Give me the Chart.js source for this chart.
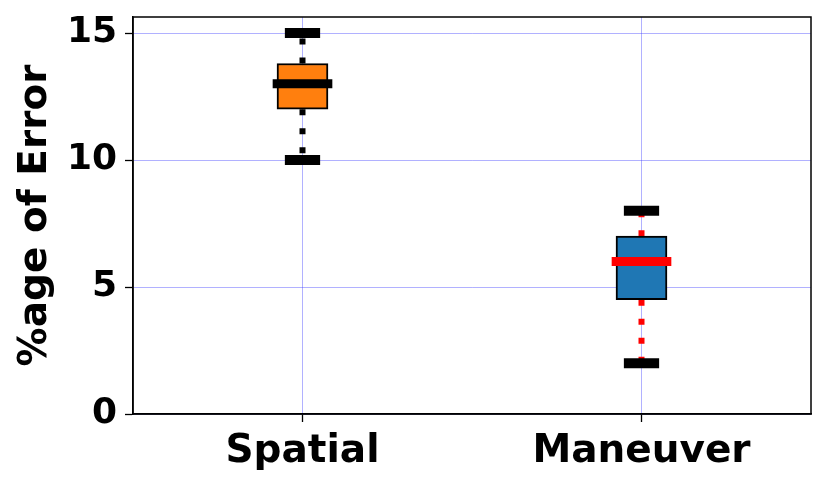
<!DOCTYPE html>
<html><head><meta charset="utf-8">
<script src="https://cdn.jsdelivr.net/npm/chart.js@4/dist/chart.umd.min.js"></script>
<style>html,body{margin:0;padding:0;background:#fff}</style>
</head><body>
<canvas id="c" width="830" height="487"></canvas>
<script>
const categories = ['Spatial', 'Maneuver'];
const positions = [1, 2];
const whiskerLow = [10, 2];
const q1 = [12, 4.5];
const median = [13, 6];
const q3 = [13.8, 7];
const whiskerHigh = [15, 8];
const yTicks = [0, 5, 10, 15];

const boxColors = ['#ff7f0e', '#1f77b4'];
const medianColors = ['#000000', '#ff0000'];
const whiskerColors = ['#000000', '#ff0000'];
const capHalf = 0.052, medHalf = 0.088;

const datasets = [];
datasets.push({
  type: 'bar',
  data: positions.map((p, i) => ({x: p, y: [q1[i], q3[i]]})),
  backgroundColor: boxColors,
  borderColor: '#000',
  borderWidth: 2,
  borderSkipped: false,
  barThickness: 51,
  order: 2
});
positions.forEach((p, i) => {
  datasets.push({type: 'line', data: [{x: p - medHalf, y: median[i]}, {x: p + medHalf, y: median[i]}],
    borderColor: medianColors[i], borderWidth: 9, pointRadius: 0, borderCapStyle: 'butt', order: 0});
  [whiskerLow[i], whiskerHigh[i]].forEach(v => {
    datasets.push({type: 'line', data: [{x: p - capHalf, y: v}, {x: p + capHalf, y: v}],
      borderColor: '#000', borderWidth: 10, pointRadius: 0, borderCapStyle: 'butt', order: 1});
  });
  datasets.push({type: 'line', data: [{x: p, y: q3[i]}, {x: p, y: whiskerHigh[i]}],
    borderColor: whiskerColors[i], borderWidth: 6, borderDash: [6, 13], pointRadius: 0, borderCapStyle: 'butt', order: 3});
  datasets.push({type: 'line', data: [{x: p, y: q1[i]}, {x: p, y: whiskerLow[i]}],
    borderColor: whiskerColors[i], borderWidth: 6, borderDash: [6, 13], pointRadius: 0, borderCapStyle: 'butt', order: 3});
});

const framePlugin = {
  id: 'frame',
  afterDatasetsDraw(chart) {
    const a = chart.chartArea, ctx = chart.ctx;
    ctx.save();
    ctx.strokeStyle = '#000';
    ctx.lineWidth = 1.5;
    ctx.strokeRect(a.left, a.top, a.right - a.left, a.bottom - a.top);
    ctx.restore();
  }
};

const gridCommon = {
  color: 'rgba(60,60,255,0.4)',
  lineWidth: 1,
  borderDash: [1.5, 1],
  tickColor: '#000',
  tickBorderDash: [],
  tickWidth: 1.3,
  tickLength: 8,
  drawOnChartArea: true
};

new Chart(document.getElementById('c'), {
  type: 'bar',
  data: {datasets},
  plugins: [framePlugin],
  options: {
    responsive: false,
    animation: false,
    layout: {padding: {left: 0, top: 17, right: 19, bottom: 0}},
    plugins: {legend: {display: false}, tooltip: {enabled: false}},
    scales: {
      x: {
        type: 'linear', min: 0.5, max: 2.5, offset: false,
        afterBuildTicks: s => { s.ticks = positions.map(v => ({value: v})); },
        afterFit: s => { s.height = 73; s.paddingLeft = 0; s.paddingRight = 0; },
        grid: Object.assign({offset: false}, gridCommon),
        border: {display: true, color: '#000', width: 1.5},
        ticks: {
          maxRotation: 0, autoSkip: false, padding: 6, color: '#000',
          font: {family: 'DejaVu Sans', weight: 'bold', size: 39},
          callback: v => categories[positions.indexOf(v)]
        }
      },
      y: {
        type: 'linear', min: 0, max: 15.63,
        afterBuildTicks: s => { s.ticks = yTicks.map(v => ({value: v})); },
        afterFit: s => { s.width = 133; s.paddingTop = 0; s.paddingBottom = 0; },
        grid: gridCommon,
        border: {display: true, color: '#000', width: 1.5},
        title: {display: true, text: '%age of Error', color: '#000', padding: {top: 12, bottom: 0},
          font: {family: 'DejaVu Sans', weight: 'bold', size: 39}},
        ticks: {
          padding: 8, color: '#000',
          font: {family: 'DejaVu Sans', weight: 'bold', size: 36}
        }
      }
    }
  }
});
</script>
</body></html>
